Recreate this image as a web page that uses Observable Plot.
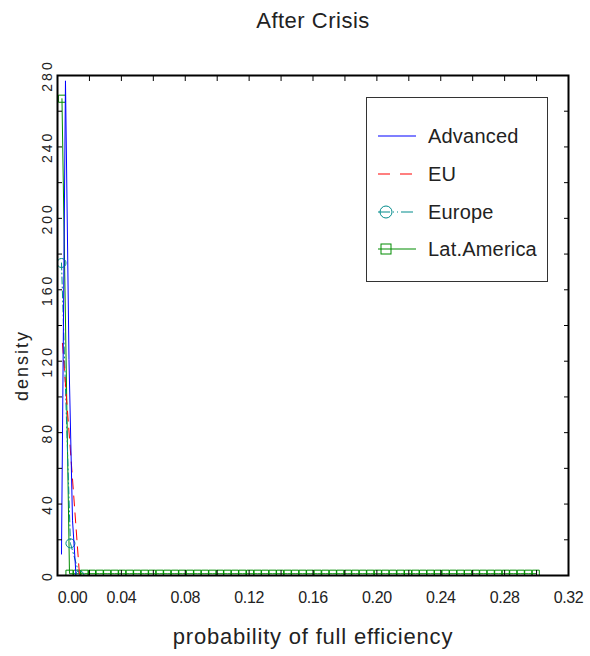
<!DOCTYPE html>
<html>
<head>
<meta charset="utf-8">
<script src="https://cdn.jsdelivr.net/npm/d3@7"></script>
<script src="https://cdn.jsdelivr.net/npm/@observablehq/plot@0.6"></script>
<style>
  html, body { margin: 0; padding: 0; background: #fff; }
  #wrap { position: relative; width: 590px; height: 656px; font-family: "Liberation Sans", Arial, sans-serif; }
  #legend { position: absolute; left: 366px; top: 97px; width: 182px; height: 185px; border: 1px solid #333; background: #fff; box-sizing: border-box; }
  .item { position: absolute; left: 0; height: 30px; width: 180px; }
  .item svg { position: absolute; left: 0; top: 0; }
  .item span { position: absolute; left: 61px; top: 0; line-height: 30px; font-size: 20px; color: #222; letter-spacing: 0.2px; }
</style>
</head>
<body>
<div id="wrap"></div>
<script>
// ---- data ----
const title = "After Crisis";
const xLabel = "probability of full efficiency";
const yLabel = "density";
const seriesNames = ["Advanced", "EU", "Europe", "Lat.America"];
const seriesColors = ["#0000ff", "#ff0000", "#008b8b", "#008c00"];

const xTickLabels = [0.00, 0.04, 0.08, 0.12, 0.16, 0.20, 0.24, 0.28, 0.32];
const xTickMarks = [0.00, 0.02, 0.04, 0.06, 0.08, 0.10, 0.12, 0.14, 0.16, 0.18, 0.20, 0.22, 0.24, 0.26, 0.28, 0.30, 0.32];
const yTickLabels = [0, 40, 80, 120, 160, 200, 240, 280];
const yTickMarks = [0, 20, 40, 60, 80, 100, 120, 140, 160, 180, 200, 220, 240, 260, 280];

const advancedX = [0.0025, 0.0050, 0.0072, 0.0094, 0.0116];
const advancedY = [12, 277, 121, 31, 0];

const euX = [0.0031, 0.0085, 0.0138];
const euY = [130, 65, 0];

const europeX = [0.0025, 0.0081, 0.0138];
const europeY = [175, 18, 0];

const latamX = [0.0028, 0.0075, 0.0122, 0.0169, 0.0216, 0.0264, 0.0311, 0.0358,
  0.0405, 0.0452, 0.0499, 0.0546, 0.0593, 0.0640, 0.0687, 0.0735,
  0.0782, 0.0829, 0.0876, 0.0923, 0.0970, 0.1017, 0.1064, 0.1111,
  0.1158, 0.1206, 0.1253, 0.1300, 0.1347, 0.1394, 0.1441, 0.1488,
  0.1535, 0.1582, 0.1629, 0.1677, 0.1724, 0.1771, 0.1818, 0.1865,
  0.1912, 0.1959, 0.2006, 0.2053, 0.2100, 0.2148, 0.2195, 0.2242,
  0.2289, 0.2336, 0.2383, 0.2430, 0.2477, 0.2524, 0.2571, 0.2619,
  0.2666, 0.2713, 0.2760, 0.2807, 0.2854, 0.2901, 0.2948, 0.2995];
const latamY = [267, 1, 1, 1, 1, 1, 1, 1,
  1, 1, 1, 1, 1, 1, 1, 1,
  1, 1, 1, 1, 1, 1, 1, 1,
  1, 1, 1, 1, 1, 1, 1, 1,
  1, 1, 1, 1, 1, 1, 1, 1,
  1, 1, 1, 1, 1, 1, 1, 1,
  1, 1, 1, 1, 1, 1, 1, 1,
  1, 1, 1, 1, 1, 1, 1, 1];

// ---- build tables ----
const toRows = (xs, ys) => xs.map((x, i) => ({x, y: ys[i]}));
const advanced = toRows(advancedX, advancedY);
const eu = toRows(euX, euY);
const europe = toRows(europeX, europeY);
const latam = toRows(latamX, latamY);

const font = '"Liberation Sans", Arial, sans-serif';
const fmt = d3.format(".2f");
const ink = "#222";

const chart = Plot.plot({
  width: 590,
  height: 656,
  marginLeft: 57,
  marginRight: 22,
  marginTop: 75,
  marginBottom: 81,
  x: {domain: [0, 0.32]},
  y: {domain: [0, 280]},
  style: {fontFamily: font, background: "#fff", color: "#000", overflow: "visible"},
  marks: [
    // series
    Plot.line(latam, {x: "x", y: "y", stroke: seriesColors[3], strokeWidth: 1, clip: true}),
    Plot.dot(latam, {x: "x", y: "y", symbol: "square", r: 4, stroke: seriesColors[3], strokeWidth: 1, fill: "none", clip: true}),
    Plot.line(europe, {x: "x", y: "y", stroke: seriesColors[2], strokeWidth: 1, strokeDasharray: "7,3,1,3", clip: true}),
    Plot.dot(europe, {x: "x", y: "y", symbol: "circle", r: 4.5, stroke: seriesColors[2], strokeWidth: 1, fill: "none", clip: true}),
    Plot.line(eu, {x: "x", y: "y", stroke: seriesColors[1], strokeWidth: 1, strokeDasharray: "10,7", clip: true}),
    Plot.line(advanced, {x: "x", y: "y", stroke: seriesColors[0], strokeWidth: 1, clip: true}),
    // inward ticks on all four sides
    Plot.axisX(xTickMarks, {anchor: "bottom", tickSize: -5, tickFormat: () => "", label: null, strokeWidth: 1}),
    Plot.axisX(xTickMarks, {anchor: "top", tickSize: -5, tickFormat: () => "", label: null, strokeWidth: 1}),
    Plot.axisY(yTickMarks, {anchor: "left", tickSize: -5, tickFormat: () => "", label: null, strokeWidth: 1}),
    Plot.axisY(yTickMarks, {anchor: "right", tickSize: -5, tickFormat: () => "", label: null, strokeWidth: 1}),
    Plot.frame({stroke: "#000", strokeWidth: 2}),
    // tick labels
    Plot.text(xTickLabels.filter(d => d !== 0), {x: d => d, frameAnchor: "bottom", lineAnchor: "middle", dy: 22, text: d => fmt(d), fontSize: 16, fill: ink}),
    Plot.text(xTickLabels.filter(d => d === 0), {x: d => d, frameAnchor: "bottom", lineAnchor: "middle", dy: 22, dx: 15, text: d => fmt(d), fontSize: 16, fill: ink}),
    Plot.text(yTickLabels, {y: d => d, frameAnchor: "left", textAnchor: "middle", lineAnchor: "middle", dx: -10, rotate: -90, text: d => String(d), fontSize: 14, fill: ink}),
    // titles
    Plot.text([title], {frameAnchor: "top", lineAnchor: "middle", dy: -55, fontSize: 22, fill: ink}),
    Plot.text([xLabel], {frameAnchor: "bottom", lineAnchor: "middle", dy: 61, fontSize: 22, fill: ink}),
    Plot.text([yLabel], {frameAnchor: "left", textAnchor: "middle", lineAnchor: "middle", dx: -35, dy: 40, rotate: -90, fontSize: 18, fill: ink})
  ]
});

const wrap = document.getElementById("wrap");
wrap.appendChild(chart);

// letter-spacing to mimic the wide vector font
chart.querySelectorAll("text").forEach(t => {
  if (t.textContent === yLabel) t.style.letterSpacing = "2px";
  if (t.textContent === xLabel) t.style.letterSpacing = "0.8px";
  if (t.textContent === title) t.style.letterSpacing = "0.5px";
  if (/^\d+$/.test(t.textContent)) t.style.letterSpacing = "3px";
  if (/^\d\.\d\d$/.test(t.textContent)) t.style.letterSpacing = "-0.4px";
});

// legend
const legend = document.createElement("div");
legend.id = "legend";
const tops = [23, 61, 99, 136];
const svgNS = "http://www.w3.org/2000/svg";
seriesNames.forEach((name, i) => {
  const item = document.createElement("div");
  item.className = "item";
  item.style.top = tops[i] + "px";
  const s = document.createElementNS(svgNS, "svg");
  s.setAttribute("width", 60); s.setAttribute("height", 30);
  const ln = document.createElementNS(svgNS, "line");
  ln.setAttribute("x1", 11); ln.setAttribute("x2", 49);
  ln.setAttribute("y1", 15); ln.setAttribute("y2", 15);
  ln.setAttribute("stroke", seriesColors[i]);
  ln.setAttribute("stroke-width", 1.2);
  if (i === 1) ln.setAttribute("stroke-dasharray", "12,10");
  if (i === 2) ln.setAttribute("stroke-dasharray", "12,3,1,3,1,3");
  s.appendChild(ln);
  if (i === 2) {
    const c = document.createElementNS(svgNS, "circle");
    c.setAttribute("cx", 19); c.setAttribute("cy", 15); c.setAttribute("r", 6);
    c.setAttribute("fill", "none"); c.setAttribute("stroke", seriesColors[i]);
    s.appendChild(c);
  }
  if (i === 3) {
    const r = document.createElementNS(svgNS, "rect");
    r.setAttribute("x", 14); r.setAttribute("y", 10); r.setAttribute("width", 10); r.setAttribute("height", 10);
    r.setAttribute("fill", "none"); r.setAttribute("stroke", seriesColors[i]);
    s.appendChild(r);
  }
  item.appendChild(s);
  const sp = document.createElement("span");
  sp.textContent = name;
  item.appendChild(sp);
  legend.appendChild(item);
});
wrap.appendChild(legend);
</script>
</body>
</html>
